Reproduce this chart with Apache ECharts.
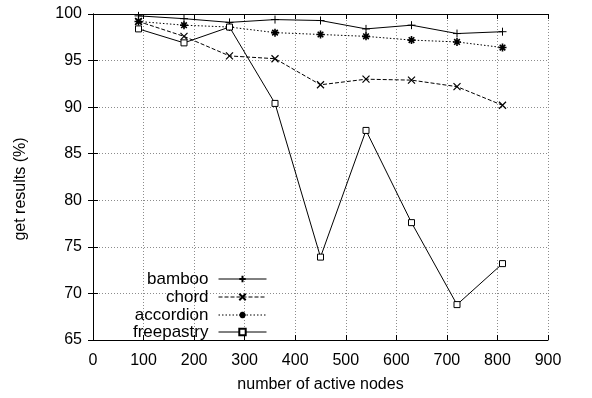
<!DOCTYPE html>
<html>
<head>
<meta charset="utf-8">
<script src="https://cdn.jsdelivr.net/npm/echarts@6/dist/echarts.min.js"></script>
<style>html,body{margin:0;padding:0;background:#fff;}#c{width:592px;height:398px;}</style>
</head>
<body>
<div id="c"></div>
<script>
var xValues = [90, 180, 270, 360, 450, 540, 630, 720, 810];
var bamboo = [99.8, 99.5, 99.1, 99.4, 99.3, 98.4, 98.8, 97.9, 98.1];
var chord = [99.2, 97.6, 95.5, 95.2, 92.4, 93.0, 92.9, 92.2, 90.2];
var accordion = [99.2, 98.8, 98.6, 98.0, 97.8, 97.6, 97.2, 97.0, 96.4];
var freepastry = [98.4, 96.9, 98.6, 90.4, 73.9, 87.5, 77.6, 68.8, 73.2];
var seriesNames = ['bamboo', 'chord', 'accordion', 'freepastry'];

function pairs(ys) { return xValues.map(function (x, i) { return [x, ys[i]]; }); }

var FONT = 'Liberation Sans, Arial, Helvetica, sans-serif';
var chart = echarts.init(document.getElementById('c'), null, {renderer: 'canvas'});

var gridLine = {show: true, lineStyle: {color: '#8c8c8c', type: [1, 2], width: 1}};
var axisLine = {show: true, lineStyle: {color: '#000', width: 1}};
var tick = {show: true, inside: true, length: 5, lineStyle: {color: '#000'}};

function mkSeries(name, data, sym, size, lineType, bw, fill) {
  return {
    name: name, type: 'line', data: pairs(data), xAxisIndex: 0, yAxisIndex: 0,
    symbol: sym, symbolSize: size, showSymbol: true,
    lineStyle: {color: '#000', width: 1, type: lineType},
    itemStyle: {color: fill || '#000', borderColor: '#000', borderWidth: bw},
    emphasis: {disabled: true}
  };
}

var legendRows = [275, 293, 311, 328];
var legends = seriesNames.map(function (n, i) {
  return {
    data: [n], orient: 'vertical', align: 'right', right: 325, top: legendRows[i] - 4.5,
    itemWidth: 48, itemHeight: 8, itemGap: 0, padding: 0, selectedMode: false,
    lineStyle: {width: 1},
    textStyle: {fontFamily: FONT, fontSize: 17, color: '#000', padding: [0, 5, 0, 0]}
  };
});

chart.setOption({
  animation: false,
  backgroundColor: '#fff',
  grid: {left: 93, right: 44, top: 14, bottom: 56},
  legend: legends,
  xAxis: [{
    type: 'value', min: 0, max: 900, interval: 100, position: 'bottom',
    name: 'number of active nodes', nameLocation: 'middle', nameGap: 37,
    nameTextStyle: {fontFamily: FONT, fontSize: 16, color: '#000'},
    axisLine: axisLine, axisTick: tick, splitLine: gridLine,
    axisLabel: {fontFamily: FONT, fontSize: 16, color: '#000', margin: 13}
  }, {
    type: 'value', min: 0, max: 900, interval: 100, position: 'top',
    axisLine: axisLine, axisTick: tick, splitLine: {show: false}, axisLabel: {show: false}
  }],
  yAxis: [{
    type: 'value', min: 65, max: 100, interval: 5, position: 'left',
    name: 'get results (%)', nameLocation: 'middle', nameGap: 64,
    nameTextStyle: {fontFamily: FONT, fontSize: 16, color: '#000', padding: [0, 24, 0, 0]},
    axisLine: axisLine, axisTick: tick, splitLine: gridLine,
    axisLabel: {fontFamily: FONT, fontSize: 16, color: '#000', margin: 11}
  }, {
    type: 'value', min: 65, max: 100, interval: 5, position: 'right',
    axisLine: axisLine, axisTick: tick, splitLine: {show: false}, axisLabel: {show: false}
  }],
  series: [
    mkSeries('bamboo', bamboo, 'path://M0,5L10,5M5,0L5,10', 8, 'solid', 1),
    mkSeries('chord', chord, 'path://M0,0L10,10M10,0L0,10', 7, [4, 2], 1.2),
    mkSeries('accordion', accordion, 'path://M0,5L10,5M5,0L5,10M1.5,1.5L8.5,8.5M8.5,1.5L1.5,8.5', 8, [1.5, 2], 1.6),
    mkSeries('freepastry', freepastry, 'path://M0,0L10,0L10,10L0,10Z', 6, 'solid', 1, '#fff')
  ]
});
</script>
</body>
</html>
